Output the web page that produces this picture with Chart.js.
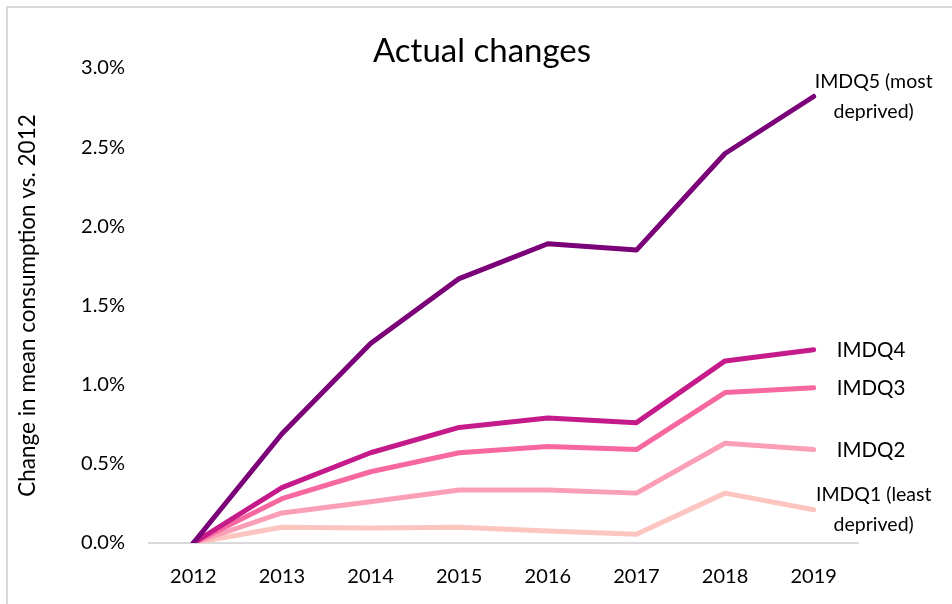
<!DOCTYPE html>
<html>
<head>
<meta charset="utf-8">
<script src="https://cdn.jsdelivr.net/npm/chart.js@4"></script>
<style>
  html, body { margin: 0; padding: 0; background: #fff; }
  #wrap { position: relative; width: 952px; height: 604px; overflow: hidden; }
  #frame { position: absolute; left: 6px; top: 6px; width: 1000px; height: 700px; border-left: 2px solid #d9d9d9; border-top: 2px solid #d9d9d9; }
  canvas { position: absolute; left: 0; top: 0; }
</style>
</head>
<body>
<div id="wrap">
  <div id="frame"></div>
  <canvas id="c" width="952" height="604"></canvas>
</div>
<script>
const years = ['2012', '2013', '2014', '2015', '2016', '2017', '2018', '2019'];
const imdq5 = [0, 0.69, 1.26, 1.67, 1.89, 1.85, 2.46, 2.82];
const imdq4 = [0, 0.35, 0.57, 0.73, 0.79, 0.76, 1.15, 1.22];
const imdq3 = [0, 0.28, 0.45, 0.57, 0.61, 0.59, 0.95, 0.98];
const imdq2 = [0, 0.19, 0.26, 0.335, 0.335, 0.315, 0.63, 0.59];
const imdq1 = [0, 0.10, 0.095, 0.10, 0.076, 0.055, 0.315, 0.21];
const yTicks = [0, 0.5, 1.0, 1.5, 2.0, 2.5, 3.0];
const chartTitle = 'Actual changes';

const FONT = 'Lato, "Open Sans", sans-serif';

function ds(label, data, color, lines, mode) {
  return {
    label, data,
    borderColor: color, backgroundColor: color,
    borderWidth: 5, pointRadius: 0, tension: 0,
    borderCapStyle: 'round', borderJoinStyle: 'round',
    endLabel: { lines, mode }
  };
}

const endLabels = {
  id: 'endLabels',
  afterDatasetsDraw(chart) {
    const ctx = chart.ctx;
    ctx.save();
    ctx.fillStyle = '#000';
    ctx.textBaseline = 'middle';
    chart.data.datasets.forEach((d, i) => {
      const meta = chart.getDatasetMeta(i);
      const pt = meta.data[meta.data.length - 1];
      const lab = d.endLabel;
      if (lab.mode === 'two') {
        ctx.font = '19.5px ' + FONT;
        ctx.textAlign = 'center';
        ctx.fillText(lab.lines[0], pt.x + 60, pt.y - 15);
        ctx.fillText(lab.lines[1], pt.x + 60, pt.y + 15);
      } else {
        ctx.font = '20.5px ' + FONT;
        ctx.textAlign = 'left';
        ctx.fillText(lab.lines[0], pt.x + 23, pt.y + 1);
      }
    });
    // chart title
    ctx.font = '33px ' + FONT;
    ctx.textAlign = 'center';
    ctx.fillText(chartTitle, chart.width / 2 + 6, 51);
    ctx.restore();
  }
};

new Chart(document.getElementById('c'), {
  type: 'line',
  data: {
    labels: years,
    datasets: [
      ds('IMDQ5', imdq5, '#7a0177', ['IMDQ5 (most', 'deprived)'], 'two'),
      ds('IMDQ4', imdq4, '#c51b8a', ['IMDQ4'], 'one'),
      ds('IMDQ3', imdq3, '#f768a1', ['IMDQ3'], 'one'),
      ds('IMDQ2', imdq2, '#fa9fb5', ['IMDQ2'], 'one'),
      ds('IMDQ1', imdq1, '#fcc5c0', ['IMDQ1 (least', 'deprived)'], 'two')
    ]
  },
  plugins: [endLabels],
  options: {
    responsive: false,
    animation: false,
    devicePixelRatio: 1,
    layout: { padding: { left: 0, right: 94, top: 68, bottom: 0 } },
    plugins: {
      legend: { display: false },
      tooltip: { enabled: false },
      title: { display: false }
    },
    scales: {
      x: {
        offset: true,
        grid: { display: false },
        border: { display: true, color: '#d9d9d9', width: 2 },
        ticks: { color: '#000', font: { family: FONT, size: 20 }, padding: 14, maxRotation: 0 },
        afterFit(s) { s.height = 61; }
      },
      y: {
        min: 0, max: 3.0,
        grid: { display: false },
        border: { display: false },
        afterBuildTicks(s) { s.ticks = yTicks.map(v => ({ value: v })); },
        ticks: {
          color: '#000', font: { family: FONT, size: 20 }, padding: 16,
          callback: v => v.toFixed(1) + '%'
        },
        title: {
          display: true,
          text: 'Change in mean consumption vs. 2012',
          color: '#000',
          font: { family: FONT, size: 22.5 },
          padding: { top: 14, bottom: 0 }
        },
        afterFit(s) { s.width = 149; }
      }
    }
  }
});
</script>
</body>
</html>
